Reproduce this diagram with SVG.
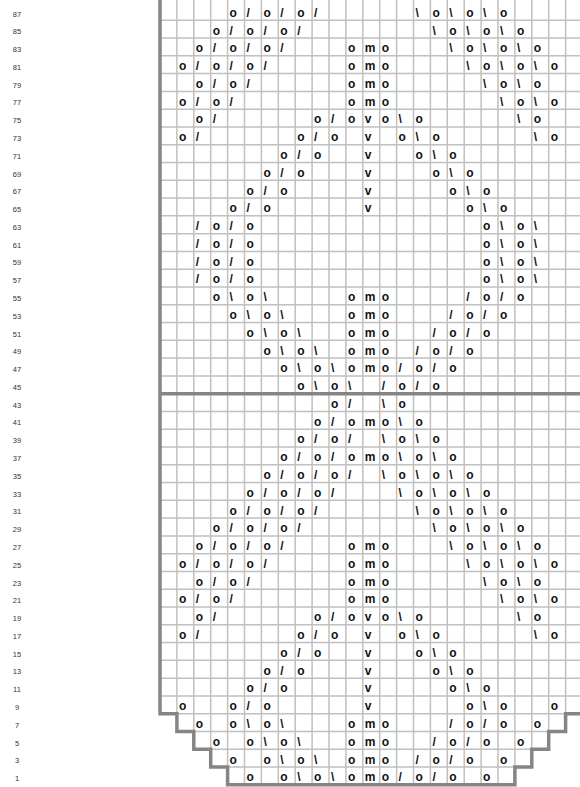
<svg xmlns="http://www.w3.org/2000/svg" width="580" height="787" viewBox="0 0 580 787">
<style>
.thin{fill:none;stroke:#c0c0c0;stroke-width:1.5}
.thick{fill:none;stroke:#858585;stroke-width:3.5;stroke-linejoin:miter}
.s text{font-family:"Liberation Sans",Arial,sans-serif;font-weight:bold;font-size:12px;fill:#111}
.n{font-family:"Liberation Sans",Arial,sans-serif;font-size:7.5px;fill:#333;text-anchor:middle}
</style>
<rect width="580" height="787" fill="#fff"/>
<g id="grid">
<path class="thin" d="M160 20.28H582.5M160 38.06H582.5M160 55.84H582.5M160 73.62H582.5M160 91.4H582.5M160 109.18H582.5M160 126.96H582.5M160 144.74H582.5M160 162.52H582.5M160 180.3H582.5M160 198.08H582.5M160 215.86H582.5M160 233.64H582.5M160 251.42H582.5M160 269.2H582.5M160 286.98H582.5M160 304.76H582.5M160 322.54H582.5M160 340.32H582.5M160 358.1H582.5M160 375.88H582.5M160 411.44H582.5M160 429.22H582.5M160 447H582.5M160 464.78H582.5M160 482.56H582.5M160 500.34H582.5M160 518.12H582.5M160 535.9H582.5M160 553.68H582.5M160 571.46H582.5M160 589.24H582.5M160 607.02H582.5M160 624.8H582.5M160 642.58H582.5M160 660.36H582.5M160 678.14H582.5M160 695.92H582.5M176.9 713.7H565.6M193.8 731.48H548.7M210.7 749.26H531.8M227.6 767.04H514.9
M176.9 0V713.7M193.8 0V731.48M210.7 0V749.26M227.6 0V767.04M244.5 0V784.82M261.4 0V784.82M278.3 0V784.82M295.2 0V784.82M312.1 0V784.82M329 0V784.82M345.9 0V784.82M362.8 0V784.82M379.7 0V784.82M396.6 0V784.82M413.5 0V784.82M430.4 0V784.82M447.3 0V784.82M464.2 0V784.82M481.1 0V784.82M498 0V784.82M514.9 0V767.04M531.8 0V749.26M548.7 0V731.48M565.6 0V713.7"/>
<path class="thick" d="M582.5 713.7H565.6V731.48H548.7V749.26H531.8V767.04H514.9V784.82H227.6V767.04H210.7V749.26H193.8V731.48H176.9V713.7H160V0M160 393.66H582.5"/>
</g>
<g id="row-numbers">
<text class="n" x="17" y="16.5">87</text>
<text class="n" x="17" y="34.3">85</text>
<text class="n" x="17" y="52.1">83</text>
<text class="n" x="17" y="69.8">81</text>
<text class="n" x="17" y="87.6">79</text>
<text class="n" x="17" y="105.4">77</text>
<text class="n" x="17" y="123.2">75</text>
<text class="n" x="17" y="141">73</text>
<text class="n" x="17" y="158.7">71</text>
<text class="n" x="17" y="176.5">69</text>
<text class="n" x="17" y="194.3">67</text>
<text class="n" x="17" y="212.1">65</text>
<text class="n" x="17" y="229.9">63</text>
<text class="n" x="17" y="247.6">61</text>
<text class="n" x="17" y="265.4">59</text>
<text class="n" x="17" y="283.2">57</text>
<text class="n" x="17" y="301">55</text>
<text class="n" x="17" y="318.8">53</text>
<text class="n" x="17" y="336.5">51</text>
<text class="n" x="17" y="354.3">49</text>
<text class="n" x="17" y="372.1">47</text>
<text class="n" x="17" y="389.9">45</text>
<text class="n" x="17" y="407.7">43</text>
<text class="n" x="17" y="425.4">41</text>
<text class="n" x="17" y="443.2">39</text>
<text class="n" x="17" y="461">37</text>
<text class="n" x="17" y="478.8">35</text>
<text class="n" x="17" y="496.6">33</text>
<text class="n" x="17" y="514.3">31</text>
<text class="n" x="17" y="532.1">29</text>
<text class="n" x="17" y="549.9">27</text>
<text class="n" x="17" y="567.7">25</text>
<text class="n" x="17" y="585.5">23</text>
<text class="n" x="17" y="603.2">21</text>
<text class="n" x="17" y="621">19</text>
<text class="n" x="17" y="638.8">17</text>
<text class="n" x="17" y="656.6">15</text>
<text class="n" x="17" y="674.4">13</text>
<text class="n" x="17" y="692.1">11</text>
<text class="n" x="17" y="709.9">9</text>
<text class="n" x="17" y="727.7">7</text>
<text class="n" x="17" y="745.5">5</text>
<text class="n" x="17" y="763.3">3</text>
<text class="n" x="17" y="781">1</text>
</g>
<g class="s">
<g id="r87" transform="translate(0 16.7)"><text x="229.6">o</text><text x="246.5">/</text><text x="263.4">o</text><text x="280.3">/</text><text x="297.2">o</text><text x="314.1">/</text><text x="415.5">\</text><text x="432.4">o</text><text x="449.3">\</text><text x="466.2">o</text><text x="483.1">\</text><text x="500">o</text></g>
<g id="r85" transform="translate(0 34.5)"><text x="212.7">o</text><text x="229.6">/</text><text x="246.5">o</text><text x="263.4">/</text><text x="280.3">o</text><text x="297.2">/</text><text x="432.4">\</text><text x="449.3">o</text><text x="466.2">\</text><text x="483.1">o</text><text x="500">\</text><text x="516.9">o</text></g>
<g id="r83" transform="translate(0 52.3)"><text x="195.8">o</text><text x="212.7">/</text><text x="229.6">o</text><text x="246.5">/</text><text x="263.4">o</text><text x="280.3">/</text><text x="347.9">o</text><text x="364.8">m</text><text x="381.7">o</text><text x="449.3">\</text><text x="466.2">o</text><text x="483.1">\</text><text x="500">o</text><text x="516.9">\</text><text x="533.8">o</text></g>
<g id="r81" transform="translate(0 70)"><text x="178.9">o</text><text x="195.8">/</text><text x="212.7">o</text><text x="229.6">/</text><text x="246.5">o</text><text x="263.4">/</text><text x="347.9">o</text><text x="364.8">m</text><text x="381.7">o</text><text x="466.2">\</text><text x="483.1">o</text><text x="500">\</text><text x="516.9">o</text><text x="533.8">\</text><text x="550.7">o</text></g>
<g id="r79" transform="translate(0 87.8)"><text x="195.8">o</text><text x="212.7">/</text><text x="229.6">o</text><text x="246.5">/</text><text x="347.9">o</text><text x="364.8">m</text><text x="381.7">o</text><text x="483.1">\</text><text x="500">o</text><text x="516.9">\</text><text x="533.8">o</text></g>
<g id="r77" transform="translate(0 105.6)"><text x="178.9">o</text><text x="195.8">/</text><text x="212.7">o</text><text x="229.6">/</text><text x="347.9">o</text><text x="364.8">m</text><text x="381.7">o</text><text x="500">\</text><text x="516.9">o</text><text x="533.8">\</text><text x="550.7">o</text></g>
<g id="r75" transform="translate(0 123.4)"><text x="195.8">o</text><text x="212.7">/</text><text x="314.1">o</text><text x="331">/</text><text x="347.9">o</text><text x="364.8">v</text><text x="381.7">o</text><text x="398.6">\</text><text x="415.5">o</text><text x="516.9">\</text><text x="533.8">o</text></g>
<g id="r73" transform="translate(0 141.2)"><text x="178.9">o</text><text x="195.8">/</text><text x="297.2">o</text><text x="314.1">/</text><text x="331">o</text><text x="364.8">v</text><text x="398.6">o</text><text x="415.5">\</text><text x="432.4">o</text><text x="533.8">\</text><text x="550.7">o</text></g>
<g id="r71" transform="translate(0 158.9)"><text x="280.3">o</text><text x="297.2">/</text><text x="314.1">o</text><text x="364.8">v</text><text x="415.5">o</text><text x="432.4">\</text><text x="449.3">o</text></g>
<g id="r69" transform="translate(0 176.7)"><text x="263.4">o</text><text x="280.3">/</text><text x="297.2">o</text><text x="364.8">v</text><text x="432.4">o</text><text x="449.3">\</text><text x="466.2">o</text></g>
<g id="r67" transform="translate(0 194.5)"><text x="246.5">o</text><text x="263.4">/</text><text x="280.3">o</text><text x="364.8">v</text><text x="449.3">o</text><text x="466.2">\</text><text x="483.1">o</text></g>
<g id="r65" transform="translate(0 212.3)"><text x="229.6">o</text><text x="246.5">/</text><text x="263.4">o</text><text x="364.8">v</text><text x="466.2">o</text><text x="483.1">\</text><text x="500">o</text></g>
<g id="r63" transform="translate(0 230.1)"><text x="195.8">/</text><text x="212.7">o</text><text x="229.6">/</text><text x="246.5">o</text><text x="483.1">o</text><text x="500">\</text><text x="516.9">o</text><text x="533.8">\</text></g>
<g id="r61" transform="translate(0 247.8)"><text x="195.8">/</text><text x="212.7">o</text><text x="229.6">/</text><text x="246.5">o</text><text x="483.1">o</text><text x="500">\</text><text x="516.9">o</text><text x="533.8">\</text></g>
<g id="r59" transform="translate(0 265.6)"><text x="195.8">/</text><text x="212.7">o</text><text x="229.6">/</text><text x="246.5">o</text><text x="483.1">o</text><text x="500">\</text><text x="516.9">o</text><text x="533.8">\</text></g>
<g id="r57" transform="translate(0 283.4)"><text x="195.8">/</text><text x="212.7">o</text><text x="229.6">/</text><text x="246.5">o</text><text x="483.1">o</text><text x="500">\</text><text x="516.9">o</text><text x="533.8">\</text></g>
<g id="r55" transform="translate(0 301.2)"><text x="212.7">o</text><text x="229.6">\</text><text x="246.5">o</text><text x="263.4">\</text><text x="347.9">o</text><text x="364.8">m</text><text x="381.7">o</text><text x="466.2">/</text><text x="483.1">o</text><text x="500">/</text><text x="516.9">o</text></g>
<g id="r53" transform="translate(0 319)"><text x="229.6">o</text><text x="246.5">\</text><text x="263.4">o</text><text x="280.3">\</text><text x="347.9">o</text><text x="364.8">m</text><text x="381.7">o</text><text x="449.3">/</text><text x="466.2">o</text><text x="483.1">/</text><text x="500">o</text></g>
<g id="r51" transform="translate(0 336.7)"><text x="246.5">o</text><text x="263.4">\</text><text x="280.3">o</text><text x="297.2">\</text><text x="347.9">o</text><text x="364.8">m</text><text x="381.7">o</text><text x="432.4">/</text><text x="449.3">o</text><text x="466.2">/</text><text x="483.1">o</text></g>
<g id="r49" transform="translate(0 354.5)"><text x="263.4">o</text><text x="280.3">\</text><text x="297.2">o</text><text x="314.1">\</text><text x="347.9">o</text><text x="364.8">m</text><text x="381.7">o</text><text x="415.5">/</text><text x="432.4">o</text><text x="449.3">/</text><text x="466.2">o</text></g>
<g id="r47" transform="translate(0 372.3)"><text x="280.3">o</text><text x="297.2">\</text><text x="314.1">o</text><text x="331">\</text><text x="347.9">o</text><text x="364.8">m</text><text x="381.7">o</text><text x="398.6">/</text><text x="415.5">o</text><text x="432.4">/</text><text x="449.3">o</text></g>
<g id="r45" transform="translate(0 390.1)"><text x="297.2">o</text><text x="314.1">\</text><text x="331">o</text><text x="347.9">\</text><text x="381.7">/</text><text x="398.6">o</text><text x="415.5">/</text><text x="432.4">o</text></g>
<g id="r43" transform="translate(0 407.9)"><text x="331">o</text><text x="347.9">/</text><text x="381.7">\</text><text x="398.6">o</text></g>
<g id="r41" transform="translate(0 425.6)"><text x="314.1">o</text><text x="331">/</text><text x="347.9">o</text><text x="364.8">m</text><text x="381.7">o</text><text x="398.6">\</text><text x="415.5">o</text></g>
<g id="r39" transform="translate(0 443.4)"><text x="297.2">o</text><text x="314.1">/</text><text x="331">o</text><text x="347.9">/</text><text x="381.7">\</text><text x="398.6">o</text><text x="415.5">\</text><text x="432.4">o</text></g>
<g id="r37" transform="translate(0 461.2)"><text x="280.3">o</text><text x="297.2">/</text><text x="314.1">o</text><text x="331">/</text><text x="347.9">o</text><text x="364.8">m</text><text x="381.7">o</text><text x="398.6">\</text><text x="415.5">o</text><text x="432.4">\</text><text x="449.3">o</text></g>
<g id="r35" transform="translate(0 479)"><text x="263.4">o</text><text x="280.3">/</text><text x="297.2">o</text><text x="314.1">/</text><text x="331">o</text><text x="347.9">/</text><text x="381.7">\</text><text x="398.6">o</text><text x="415.5">\</text><text x="432.4">o</text><text x="449.3">\</text><text x="466.2">o</text></g>
<g id="r33" transform="translate(0 496.8)"><text x="246.5">o</text><text x="263.4">/</text><text x="280.3">o</text><text x="297.2">/</text><text x="314.1">o</text><text x="331">/</text><text x="398.6">\</text><text x="415.5">o</text><text x="432.4">\</text><text x="449.3">o</text><text x="466.2">\</text><text x="483.1">o</text></g>
<g id="r31" transform="translate(0 514.5)"><text x="229.6">o</text><text x="246.5">/</text><text x="263.4">o</text><text x="280.3">/</text><text x="297.2">o</text><text x="314.1">/</text><text x="415.5">\</text><text x="432.4">o</text><text x="449.3">\</text><text x="466.2">o</text><text x="483.1">\</text><text x="500">o</text></g>
<g id="r29" transform="translate(0 532.3)"><text x="212.7">o</text><text x="229.6">/</text><text x="246.5">o</text><text x="263.4">/</text><text x="280.3">o</text><text x="297.2">/</text><text x="432.4">\</text><text x="449.3">o</text><text x="466.2">\</text><text x="483.1">o</text><text x="500">\</text><text x="516.9">o</text></g>
<g id="r27" transform="translate(0 550.1)"><text x="195.8">o</text><text x="212.7">/</text><text x="229.6">o</text><text x="246.5">/</text><text x="263.4">o</text><text x="280.3">/</text><text x="347.9">o</text><text x="364.8">m</text><text x="381.7">o</text><text x="449.3">\</text><text x="466.2">o</text><text x="483.1">\</text><text x="500">o</text><text x="516.9">\</text><text x="533.8">o</text></g>
<g id="r25" transform="translate(0 567.9)"><text x="178.9">o</text><text x="195.8">/</text><text x="212.7">o</text><text x="229.6">/</text><text x="246.5">o</text><text x="263.4">/</text><text x="347.9">o</text><text x="364.8">m</text><text x="381.7">o</text><text x="466.2">\</text><text x="483.1">o</text><text x="500">\</text><text x="516.9">o</text><text x="533.8">\</text><text x="550.7">o</text></g>
<g id="r23" transform="translate(0 585.7)"><text x="195.8">o</text><text x="212.7">/</text><text x="229.6">o</text><text x="246.5">/</text><text x="347.9">o</text><text x="364.8">m</text><text x="381.7">o</text><text x="483.1">\</text><text x="500">o</text><text x="516.9">\</text><text x="533.8">o</text></g>
<g id="r21" transform="translate(0 603.4)"><text x="178.9">o</text><text x="195.8">/</text><text x="212.7">o</text><text x="229.6">/</text><text x="347.9">o</text><text x="364.8">m</text><text x="381.7">o</text><text x="500">\</text><text x="516.9">o</text><text x="533.8">\</text><text x="550.7">o</text></g>
<g id="r19" transform="translate(0 621.2)"><text x="195.8">o</text><text x="212.7">/</text><text x="314.1">o</text><text x="331">/</text><text x="347.9">o</text><text x="364.8">v</text><text x="381.7">o</text><text x="398.6">\</text><text x="415.5">o</text><text x="516.9">\</text><text x="533.8">o</text></g>
<g id="r17" transform="translate(0 639)"><text x="178.9">o</text><text x="195.8">/</text><text x="297.2">o</text><text x="314.1">/</text><text x="331">o</text><text x="364.8">v</text><text x="398.6">o</text><text x="415.5">\</text><text x="432.4">o</text><text x="533.8">\</text><text x="550.7">o</text></g>
<g id="r15" transform="translate(0 656.8)"><text x="280.3">o</text><text x="297.2">/</text><text x="314.1">o</text><text x="364.8">v</text><text x="415.5">o</text><text x="432.4">\</text><text x="449.3">o</text></g>
<g id="r13" transform="translate(0 674.6)"><text x="263.4">o</text><text x="280.3">/</text><text x="297.2">o</text><text x="364.8">v</text><text x="432.4">o</text><text x="449.3">\</text><text x="466.2">o</text></g>
<g id="r11" transform="translate(0 692.3)"><text x="246.5">o</text><text x="263.4">/</text><text x="280.3">o</text><text x="364.8">v</text><text x="449.3">o</text><text x="466.2">\</text><text x="483.1">o</text></g>
<g id="r9" transform="translate(0 710.1)"><text x="178.9">o</text><text x="229.6">o</text><text x="246.5">/</text><text x="263.4">o</text><text x="364.8">v</text><text x="466.2">o</text><text x="483.1">\</text><text x="500">o</text><text x="550.7">o</text></g>
<g id="r7" transform="translate(0 727.9)"><text x="195.8">o</text><text x="229.6">o</text><text x="246.5">\</text><text x="263.4">o</text><text x="280.3">\</text><text x="347.9">o</text><text x="364.8">m</text><text x="381.7">o</text><text x="449.3">/</text><text x="466.2">o</text><text x="483.1">/</text><text x="500">o</text><text x="533.8">o</text></g>
<g id="r5" transform="translate(0 745.7)"><text x="212.7">o</text><text x="246.5">o</text><text x="263.4">\</text><text x="280.3">o</text><text x="297.2">\</text><text x="347.9">o</text><text x="364.8">m</text><text x="381.7">o</text><text x="432.4">/</text><text x="449.3">o</text><text x="466.2">/</text><text x="483.1">o</text><text x="516.9">o</text></g>
<g id="r3" transform="translate(0 763.5)"><text x="229.6">o</text><text x="263.4">o</text><text x="280.3">\</text><text x="297.2">o</text><text x="314.1">\</text><text x="347.9">o</text><text x="364.8">m</text><text x="381.7">o</text><text x="415.5">/</text><text x="432.4">o</text><text x="449.3">/</text><text x="466.2">o</text><text x="500">o</text></g>
<g id="r1" transform="translate(0 781.2)"><text x="246.5">o</text><text x="280.3">o</text><text x="297.2">\</text><text x="314.1">o</text><text x="331">\</text><text x="347.9">o</text><text x="364.8">m</text><text x="381.7">o</text><text x="398.6">/</text><text x="415.5">o</text><text x="432.4">/</text><text x="449.3">o</text><text x="483.1">o</text></g>
</g>
</svg>
